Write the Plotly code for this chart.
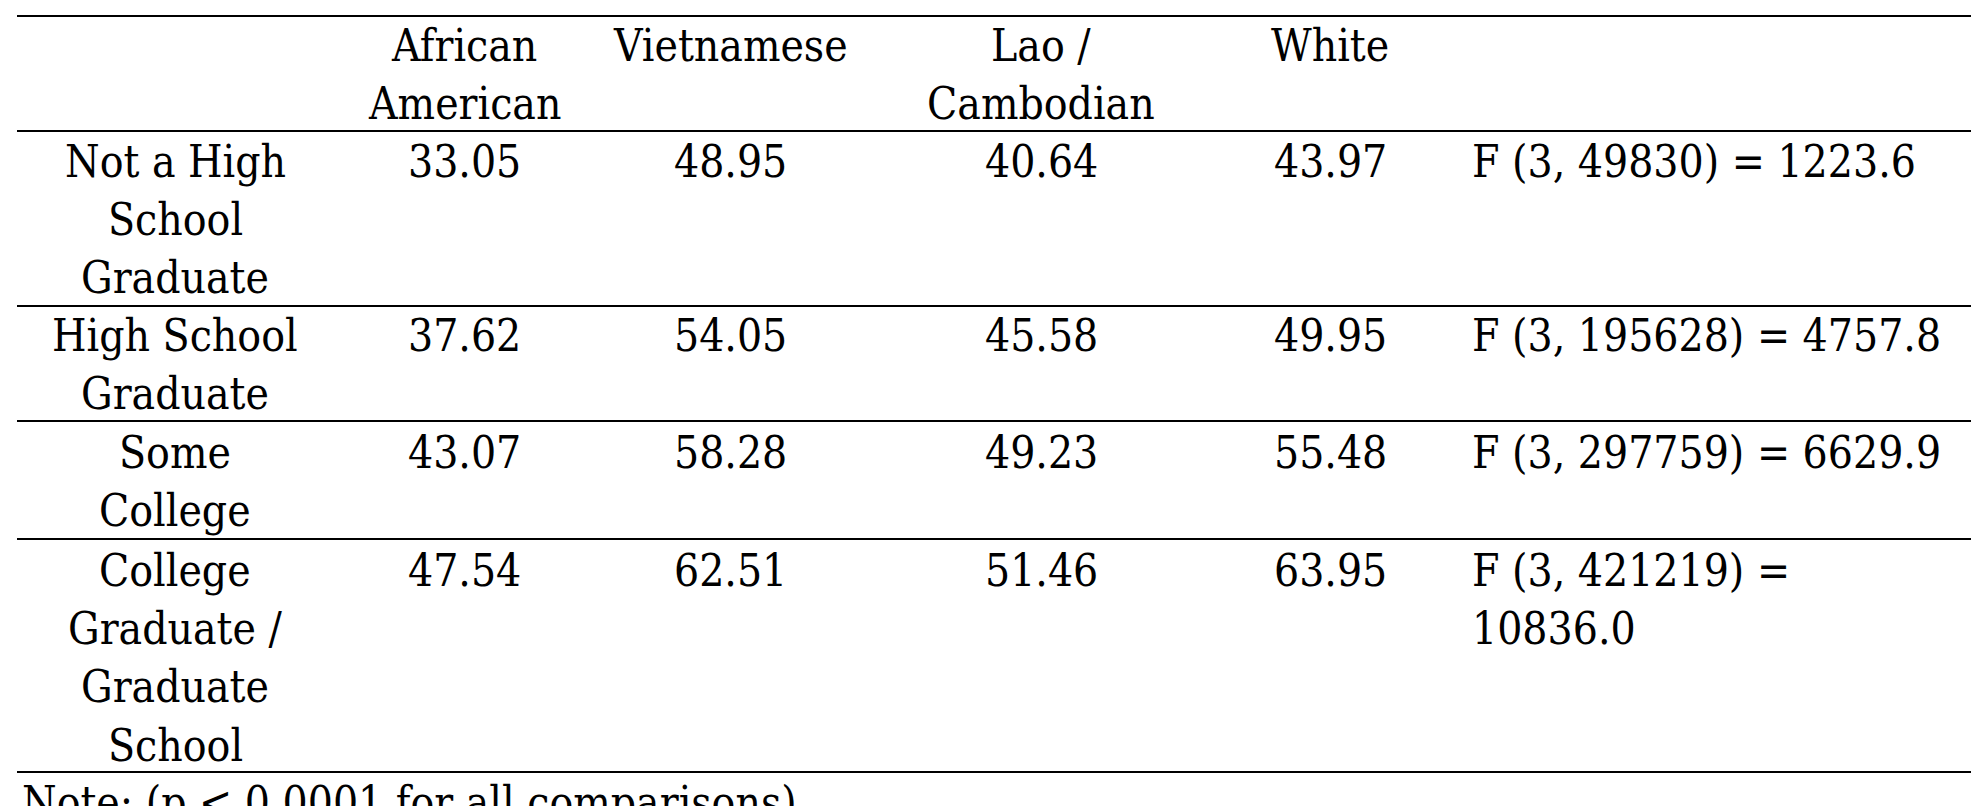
import plotly.graph_objects as go

# table contents
row_labels = [
    ["Not a High", "School", "Graduate"],
    ["High School", "Graduate"],
    ["Some", "College"],
    ["College", "Graduate /", "Graduate", "School"],
]
col_headers = [["African", "American"], ["Vietnamese"], ["Lao /", "Cambodian"], ["White"]]
african_american = ["33.05", "37.62", "43.07", "47.54"]
vietnamese = ["48.95", "54.05", "58.28", "62.51"]
lao_cambodian = ["40.64", "45.58", "49.23", "51.46"]
white = ["43.97", "49.95", "55.48", "63.95"]
f_stats = [
    ["F (3, 49830) = 1223.6"],
    ["F (3, 195628) = 4757.8"],
    ["F (3, 297759) = 6629.9"],
    ["F (3, 421219) =", "10836.0"],
]
title_text = "of Parent's Education"
note_text = "Note: (p < 0.0001 for all comparisons)"

W, H = 1988, 806
FONT = "DejaVu Serif Condensed"
SIZE = 44
LINE = 58.4
col_x = [167, 456, 722, 1033, 1322]
f_x = 1462
header_y = 37
row_y = [153, 327, 444, 562]
rule_y = [8, 123, 298, 413, 531, 764]

fig = go.Figure()
ann = []


def add_lines(lines, x, y0, anchor="center", italic=False):
    for i, s in enumerate(lines):
        txt = f"<i>{s}</i>" if italic else s
        ann.append(dict(x=x, y=y0 + i * LINE, text=txt, showarrow=False,
                        xanchor=anchor, yanchor="middle", xref="x", yref="y",
                        font=dict(family=FONT, size=SIZE, color="black")))


add_lines([title_text], 12, -16, anchor="left", italic=True)
for j, h in enumerate(col_headers):
    add_lines(h, col_x[j + 1], header_y)
cols = [african_american, vietnamese, lao_cambodian, white]
for i, lab in enumerate(row_labels):
    add_lines(lab, col_x[0], row_y[i])
    for j, c in enumerate(cols):
        add_lines([c[i]], col_x[j + 1], row_y[i])
    add_lines(f_stats[i], f_x, row_y[i], anchor="left")
add_lines([note_text], 12, 794, anchor="left")

shapes = [dict(type="line", xref="x", yref="y", x0=9, x1=1963, y0=y, y1=y,
               line=dict(color="black", width=2)) for y in rule_y]

fig.update_layout(
    width=W, height=H, margin=dict(l=0, r=0, t=0, b=0),
    paper_bgcolor="white", plot_bgcolor="white",
    xaxis=dict(range=[0, W], visible=False, fixedrange=True),
    yaxis=dict(range=[H, 0], visible=False, fixedrange=True),
    annotations=ann, shapes=shapes, showlegend=False,
)
fig.write_html("out.html")
